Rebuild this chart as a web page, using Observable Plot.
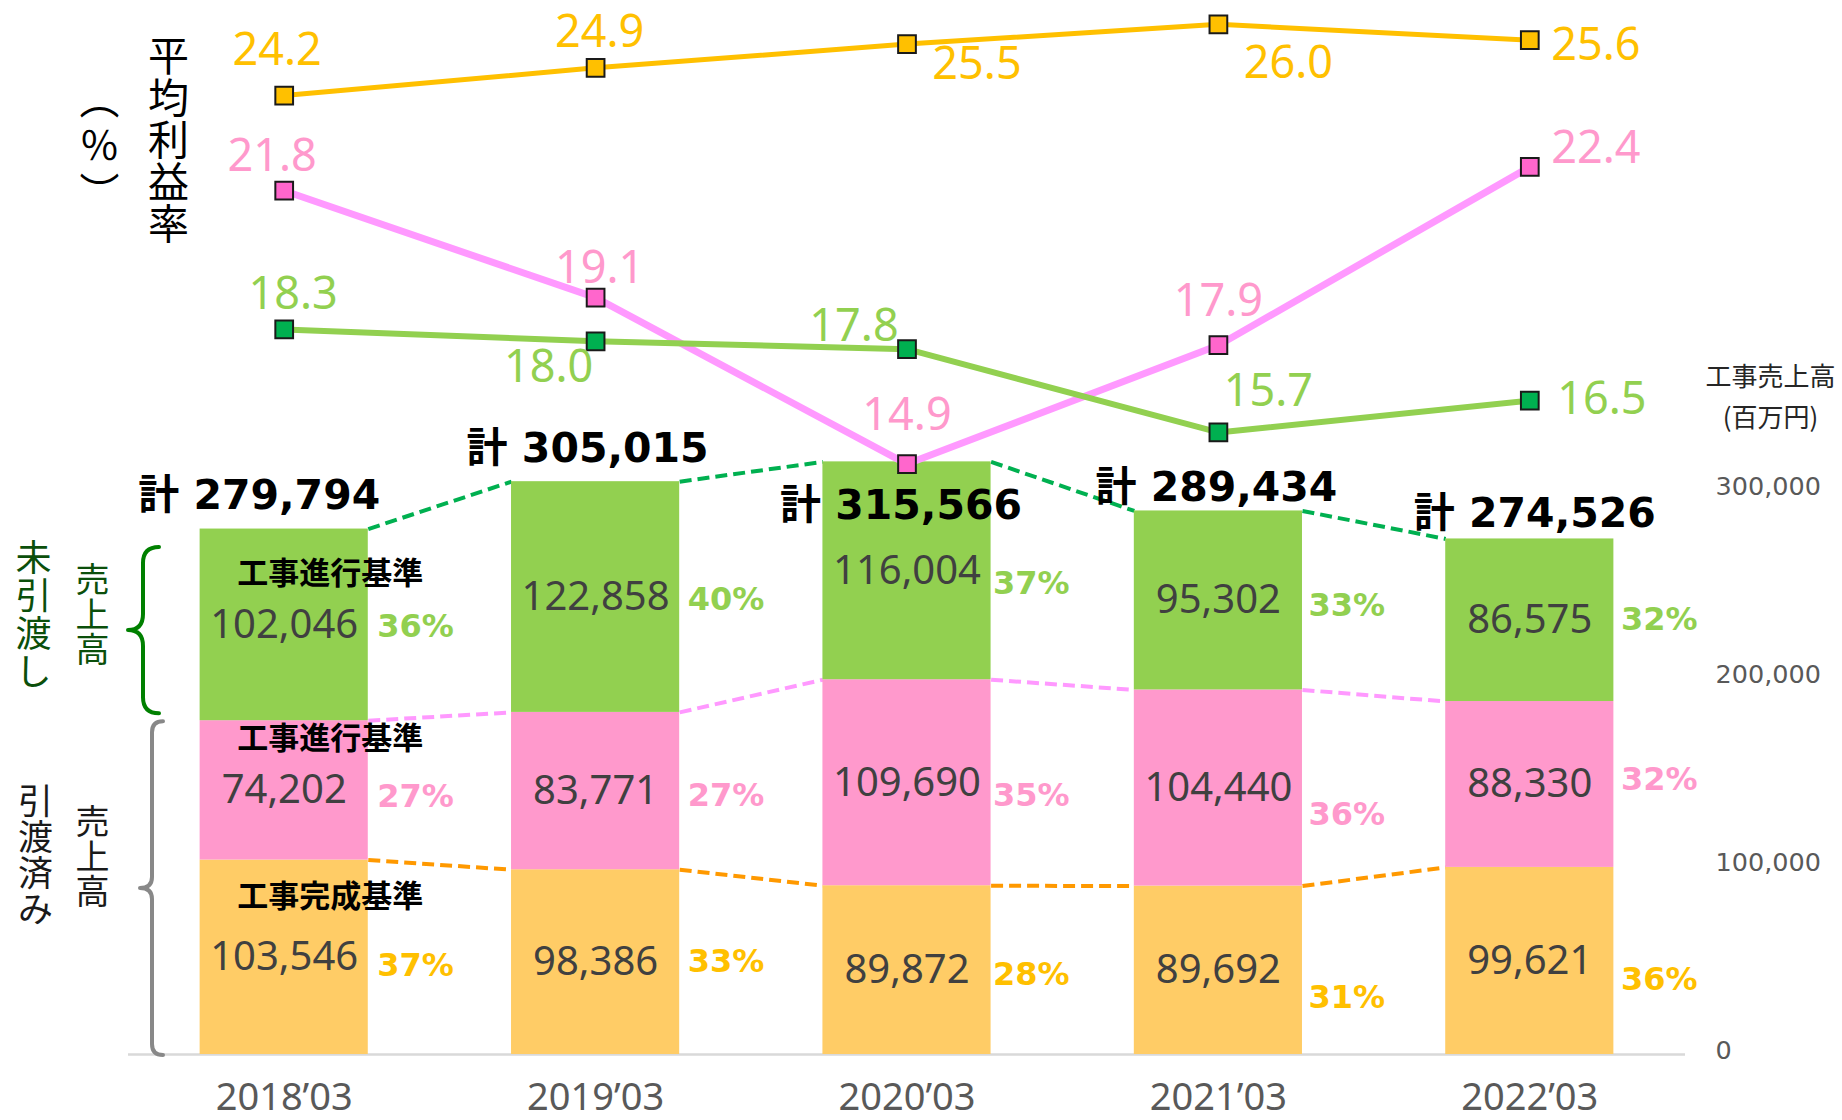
<!DOCTYPE html>
<html><head><meta charset="utf-8">
<script src="https://cdn.jsdelivr.net/npm/d3@7"></script>
<script src="https://cdn.jsdelivr.net/npm/@observablehq/plot@0.6"></script>
<style>
html,body{margin:0;padding:0;background:#fff;}
#chart{position:relative;width:1842px;height:1120px;}
#chart svg{position:absolute;left:0;top:0;}
</style></head><body><div id="chart"></div>
<script>
// ---------- data ----------
const years = ["2018’03", "2019’03", "2020’03", "2021’03", "2022’03"];
const salesKansei = [103546, 98386, 89872, 89692, 99621];              // 引渡済み・工事完成基準
const salesShinkoDelivered = [74202, 83771, 109690, 104440, 88330];     // 引渡済み・工事進行基準
const salesShinkoUndelivered = [102046, 122858, 116004, 95302, 86575];  // 未引渡し・工事進行基準
const salesTotal = [279794, 305015, 315566, 289434, 274526];
const shareKansei = [37, 33, 28, 31, 36];
const shareShinkoDelivered = [27, 27, 35, 36, 32];
const shareShinkoUndelivered = [36, 40, 37, 33, 32];
const marginKansei = [24.2, 24.9, 25.5, 26.0, 25.6];
const marginShinkoDelivered = [21.8, 19.1, 14.9, 17.9, 22.4];
const marginShinkoUndelivered = [18.3, 18.0, 17.8, 15.7, 16.5];
const salesTicks = [0, 100000, 200000, 300000];

// ---------- layout / style ----------
const W = 1842, H = 1120, ML = 128, MR = 157, MB = 66;
const HALF = 0.27;
const fmt = d3.format(",");
const fmt1 = d3.format(".1f");
const CJK = "'Noto Sans CJK JP', sans-serif";
const SANS = "'Noto Sans', 'Noto Sans CJK JP', sans-serif";
const VERD = "'DejaVu Sans', 'Noto Sans CJK JP', sans-serif";

const series = [
  {name: "工事完成基準", values: salesKansei, share: shareKansei, margin: marginKansei,
   fill: "#FFCC66", shareColor: "#FFC000", link: "#FF9900", line: "#FFC000", marker: "#FFC000",
   labelColor: "#FFC000", lineWidth: 5, shareDy: [8, 0, 5, 27, 19], nameDy: -60,
   labelDx: [-7, 4, 70, 70, 66], labelDy: [-45, -35, 21, 39, 5]},
  {name: "工事進行基準", values: salesShinkoDelivered, share: shareShinkoDelivered, margin: marginShinkoDelivered,
   fill: "#FF99CC", shareColor: "#FF99CC", link: "#FF99FF", line: "#FF99FF", marker: "#FF66CC",
   labelColor: "#FF99CC", lineWidth: 7, shareDy: [6, 5, 13, 27, -5], nameDy: -51,
   labelDx: [-12, 4, 0, 0, 66], labelDy: [-34, -29, -49, -44, -18]},
  {name: "工事進行基準", values: salesShinkoUndelivered, share: shareShinkoUndelivered, margin: marginShinkoUndelivered,
   fill: "#92D050", shareColor: "#92D050", link: "#00B050", line: "#92D050", marker: "#00B050",
   labelColor: "#92D050", lineWidth: 6, shareDy: [2, 3, 13, 5, 0], nameDy: -51,
   labelDx: [9, -47, -53, 50, 72], labelDy: [-35, 26, -23, -41, -1]}
];
const shareDx = [9, 8, 2, 6, 7];
const totalDx = [-25, -8, -6, -2, 5];
const totalDy = [-33, -33, 44, -23, -25];

// ---------- derived tables ----------
const segments = [];
years.forEach((yr, i) => {
  let base = 0;
  series.forEach((s, k) => {
    segments.push({i, k, s, y1: base, y2: base + s.values[i], value: s.values[i], share: s.share[i]});
    base += s.values[i];
  });
});
const seg = (i, k) => segments.find(d => d.i === i && d.k === k);
const links = [];
series.forEach((s, k) => {
  for (let i = 0; i < years.length - 1; i++) {
    links.push({x1: i + HALF, x2: i + 1 - HALF, y1: seg(i, k).y2, y2: seg(i + 1, k).y2, color: s.link});
  }
});
const first = series.map((s, k) => seg(0, k));
const mid = d => (d.y1 + d.y2) / 2;

function brace(yLow, yHigh, o) {
  return (index, scales, values, dims) => {
    const yt = scales.y(yHigh) + o.insetTop, yb = scales.y(yLow) - o.insetBottom, ym = (yt + yb) / 2;
    const x = dims.marginLeft + o.x, r = o.hook, t = o.tip;
    const p = document.createElementNS("http://www.w3.org/2000/svg", "path");
    p.setAttribute("d",
      `M${x + r},${yt} Q${x},${yt} ${x},${yt + r} L${x},${ym - r} Q${x},${ym} ${x - t},${ym} ` +
      `Q${x},${ym} ${x},${ym + r} L${x},${yb - r} Q${x},${yb} ${x + r},${yb}`);
    p.setAttribute("fill", "none");
    p.setAttribute("stroke", o.color);
    p.setAttribute("stroke-width", 4);
    p.setAttribute("stroke-linecap", "round");
    p.setAttribute("stroke-linejoin", "round");
    return p;
  };
}

// ---------- bars plot ----------
const barPlot = Plot.plot({
  width: W, height: H, marginLeft: ML, marginRight: MR, marginTop: 115, marginBottom: MB,
  x: {domain: [-0.5, 4.5], axis: null},
  y: {domain: [0, 500000], axis: null},
  color: {type: "identity"},
  style: {background: "white"},
  marks: [
    Plot.ruleY([0], {stroke: "#D9D9D9", strokeWidth: 2.5}),
    Plot.link(links, {x1: "x1", y1: "y1", x2: "x2", y2: "y2", stroke: d => d.color, strokeWidth: 4, strokeDasharray: "12,6"}),
    Plot.rect(segments, {x1: d => d.i - HALF, x2: d => d.i + HALF, y1: "y1", y2: "y2", fill: d => d.s.fill}),
    Plot.text(segments, {x: "i", y: mid, text: d => fmt(d.value), fill: "#404040", fontSize: 40, fontFamily: SANS}),
    ...series.map((s, k) => Plot.text([first[k]], {x: "i", y: mid, text: d => d.s.name, dx: 46, dy: s.nameDy,
      fontWeight: "bold", fontSize: 31, fontFamily: CJK, fill: "black"})),
    ...segments.map(d => Plot.text([d], {x: e => e.i + HALF, y: mid, text: e => e.share + "%", textAnchor: "start",
      dx: shareDx[d.i], dy: d.s.shareDy[d.i], fill: d.s.shareColor, fontWeight: "bold", fontSize: 32, fontFamily: VERD})),
    ...years.map((yr, i) => Plot.text([i], {x: d => d, y: d => salesTotal[d], text: d => "計 " + fmt(salesTotal[d]),
      dx: totalDx[i], dy: totalDy[i], fontWeight: "bold", fontSize: 41, fontFamily: VERD, fill: "black"})),
    Plot.text(salesTicks, {y: d => d, text: d => fmt(d), frameAnchor: "right", textAnchor: "start", dx: 30, dy: -4,
      fill: "#595959", fontSize: 25.5, fontFamily: VERD}),
    Plot.text([salesTicks[salesTicks.length - 1]], {y: d => d, text: () => "工事売上高", frameAnchor: "right",
      textAnchor: "middle", dx: 85, dy: -113, fill: "#262626", fontSize: 26, fontFamily: CJK}),
    Plot.text([salesTicks[salesTicks.length - 1]], {y: d => d, text: () => "(百万円)", frameAnchor: "right",
      textAnchor: "middle", dx: 85, dy: -72, fill: "#262626", fontSize: 26, fontFamily: CJK}),
    Plot.text(years, {x: (d, i) => i, text: d => d, frameAnchor: "bottom", lineAnchor: "middle", dy: 43,
      fill: "#595959", fontSize: 38, fontFamily: SANS}),
    // left side annotations
    Plot.text([first[2]], {y: mid, text: () => "未\n引\n渡\nし", frameAnchor: "left", textAnchor: "middle", dx: -95, dy: -9,
      lineHeight: 1.05, fontSize: 36, fontFamily: CJK, fill: "#0B4F0B"}),
    Plot.text([first[2]], {y: mid, text: () => "売\n上\n高", frameAnchor: "left", textAnchor: "middle", dx: -36, dy: -9,
      lineHeight: 1.03, fontSize: 34, fontFamily: CJK, fill: "#0B4F0B"}),
    Plot.text([{y1: 0, y2: first[1].y2}], {y: mid, text: () => "引\n渡\n済\nみ", frameAnchor: "left", textAnchor: "middle",
      dx: -93, dy: -31, lineHeight: 1.02, fontSize: 35, fontFamily: CJK, fill: "#1A1A1A"}),
    Plot.text([{y1: 0, y2: first[1].y2}], {y: mid, text: () => "売\n上\n高", frameAnchor: "left", textAnchor: "middle",
      dx: -36, dy: -30, lineHeight: 1.03, fontSize: 34, fontFamily: CJK, fill: "#1A1A1A"}),
    brace(first[2].y1, first[2].y2, {x: 15, hook: 16, tip: 15, insetTop: 18.5, insetBottom: 7, color: "#008000"}),
    brace(0, first[1].y2, {x: 24, hook: 11, tip: 12, insetTop: 1, insetBottom: -1, color: "#888888"})
  ]
});

// ---------- profit-rate lines plot (overlay) ----------
const drawOrder = [1, 2, 0];
const pts = s => s.margin.map((v, i) => ({i, v}));
const linePlot = Plot.plot({
  width: W, height: H, marginLeft: ML, marginRight: MR, marginTop: 0, marginBottom: MB,
  x: {domain: [-0.5, 4.5], axis: null},
  y: {domain: [0, 26.6], axis: null},
  style: {background: "transparent"},
  marks: [
    ...drawOrder.map(k => Plot.line(pts(series[k]), {x: "i", y: "v", stroke: series[k].line, strokeWidth: series[k].lineWidth})),
    ...drawOrder.map(k => Plot.dot(pts(series[k]), {x: "i", y: "v", symbol: "square", r: 10, fill: series[k].marker,
      stroke: "#1A1A1A", strokeWidth: 2})),
    ...series.flatMap(s => pts(s).map(p => Plot.text([p], {x: "i", y: "v", text: d => fmt1(d.v),
      dx: s.labelDx[p.i], dy: s.labelDy[p.i], fill: s.labelColor, fontSize: 45, fontFamily: SANS}))),
    Plot.text(["平\n均\n利\n益\n率"], {frameAnchor: "top-left", textAnchor: "middle", lineAnchor: "middle",
      dx: 40, dy: 141, lineHeight: 1.02, fontSize: 41, fontFamily: CJK, fill: "black"}),
    Plot.text(["︵\n％\n︶"], {frameAnchor: "top-left", textAnchor: "middle", lineAnchor: "middle",
      dx: -29, dy: 145, lineHeight: 1.16, fontSize: 40, fontFamily: CJK, fill: "black"})
  ]
});

const host = document.getElementById("chart");
host.appendChild(barPlot);
host.appendChild(linePlot);
</script>
</body></html>
